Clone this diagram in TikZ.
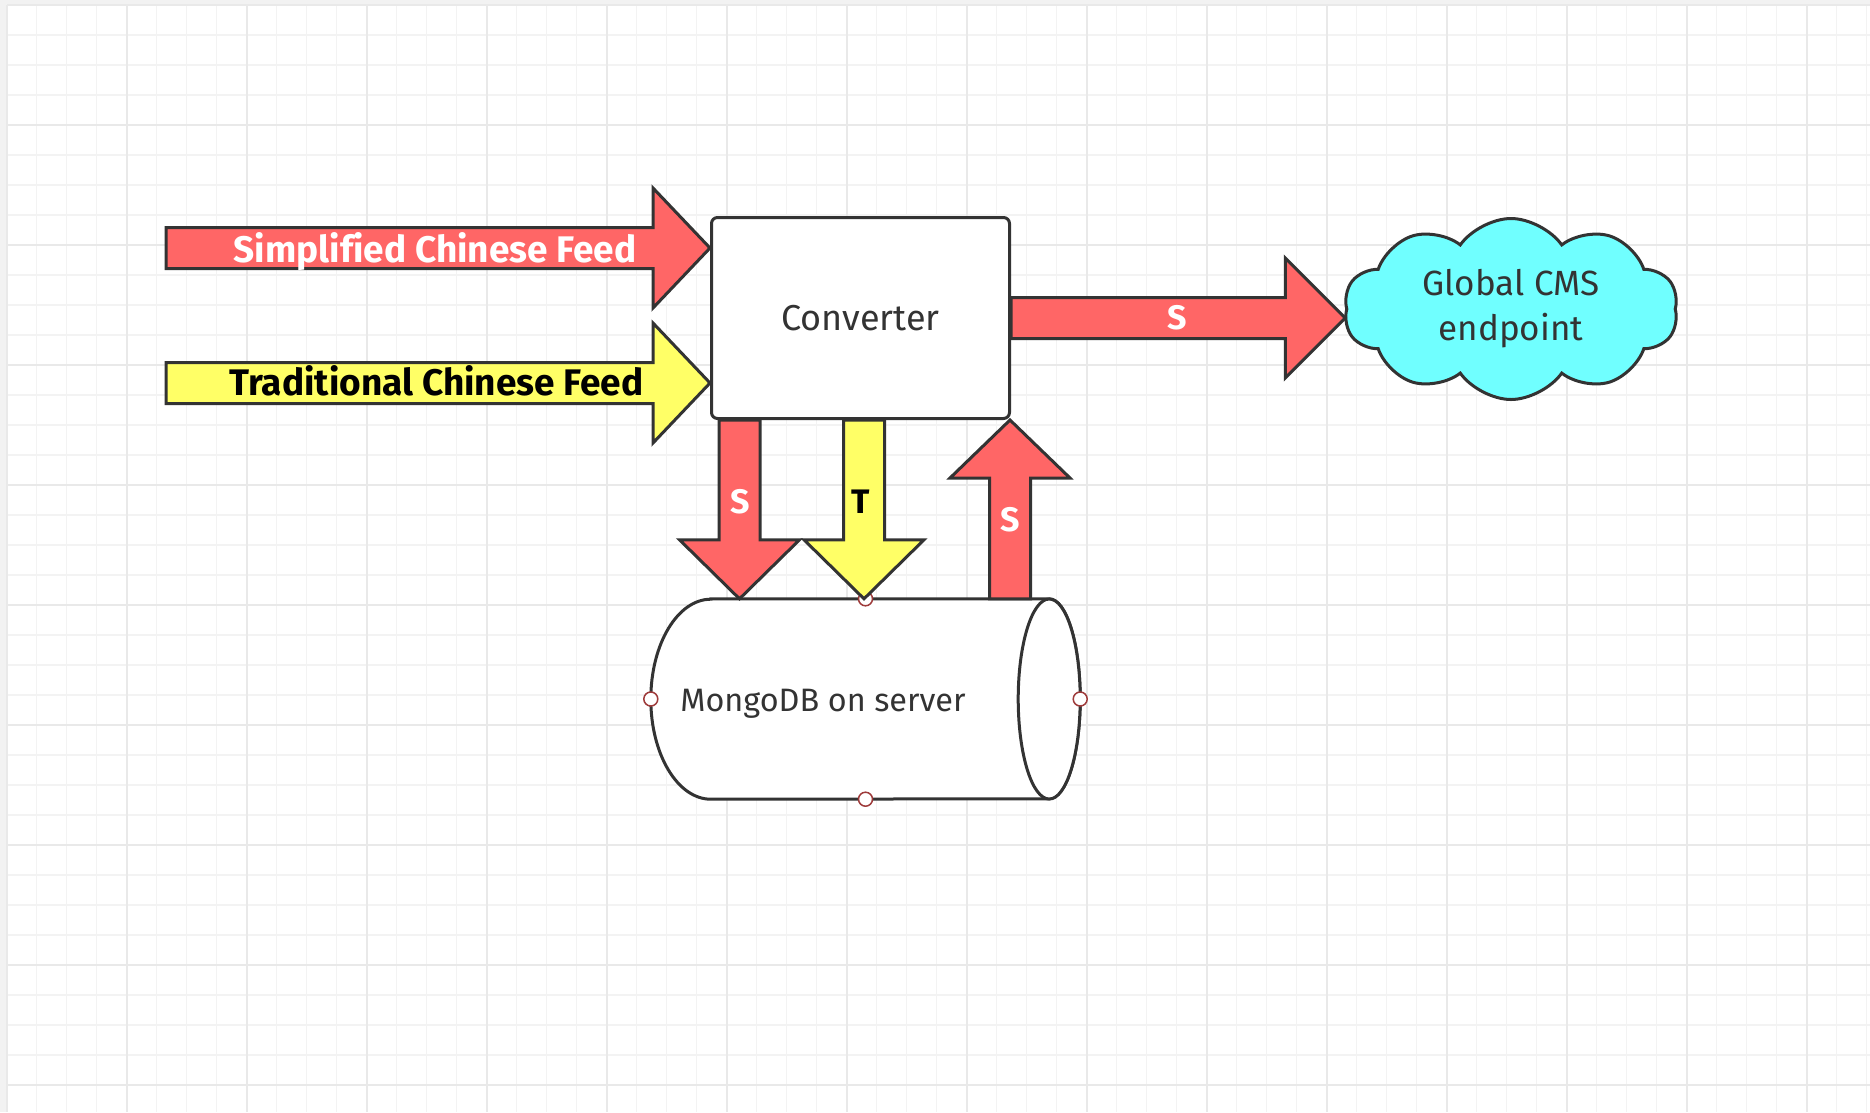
\documentclass[tikz,border=0pt]{standalone}
\usepackage{fontspec}
\setmainfont{Fira Sans}[Ligatures=NoCommon]
\usetikzlibrary{calc,shapes.symbols}

\definecolor{linegray}{HTML}{333333}
\definecolor{textgray}{HTML}{333333}
\definecolor{feedred}{HTML}{FF6666}
\definecolor{feedyellow}{HTML}{FFFF66}
\definecolor{cmscyan}{HTML}{70FFFF}
\definecolor{canvasgray}{HTML}{F2F2F2}
\definecolor{gridminor}{HTML}{F3F3F3}
\definecolor{gridmajor}{HTML}{E9E9E9}
\definecolor{pointred}{HTML}{9E3A3A}

% block arrow: [style]{from}{tip}{head length}
\newcommand\shaftw{20.5pt}
\newcommand\headw{60pt}
\newcommand\blockarrow[4][]{%
  \draw[#1] let \p1=(#2), \p2=(#3), \n1={veclen(\x2-\x1,\y2-\y1)},
      \n2={(\x2-\x1)/\n1}, \n3={(\y2-\y1)/\n1} in
    ({\x1-\shaftw*\n3},{\y1+\shaftw*\n2})
    -- ({\x2-#4*\n2-\shaftw*\n3},{\y2-#4*\n3+\shaftw*\n2})
    -- ({\x2-#4*\n2-\headw*\n3},{\y2-#4*\n3+\headw*\n2})
    -- (\p2)
    -- ({\x2-#4*\n2+\headw*\n3},{\y2-#4*\n3-\headw*\n2})
    -- ({\x2-#4*\n2+\shaftw*\n3},{\y2-#4*\n3-\shaftw*\n2})
    -- ({\x1+\shaftw*\n3},{\y1-\shaftw*\n2}) -- cycle;}

\begin{document}
\begin{tikzpicture}[x=1pt,y=-1pt,
    minor/.style={draw=gridminor, line width=1.5pt},
    major/.style={draw=gridmajor, line width=2pt},
    outline/.style={draw=linegray, line width=3pt},
    redarr/.style={outline, fill=feedred},
    yelarr/.style={outline, fill=feedyellow},
    box/.style={outline, fill=white, rounded corners=6pt, minimum width=298pt,
      minimum height=201pt, text=textgray, font=\fontsize{36}{42}\selectfont},
    cms/.style={cloud, cloud puffs=10, cloud puff arc=110, aspect=1.85, outline,
      fill=cmscyan, minimum width=334pt, minimum height=181pt, align=center,
      inner sep=0pt, text=textgray, font=\fontsize{35}{45}\selectfont},
    dbnode/.style={inner sep=0pt, minimum width=429pt, minimum height=200pt},
    dbtext/.style={text=textgray, font=\fontsize{32.4}{38}\selectfont},
    feedlbl/.style={font=\bfseries\fontsize{37}{42}\selectfont},
    arrlbl/.style={font=\bfseries\fontsize{34}{40}\selectfont},
    anchorpt/.style={draw=pointred, line width=1.5pt, fill=white}]
\useasboundingbox (0,0) rectangle (1870,1112);

%GRID
\fill[canvasgray] (0,0) rectangle (1870,1112);
\fill[white] (7,5) rectangle (1870,1112);
\foreach \x in {6.7,36.7,...,1870} \draw[minor] (\x,5) -- (\x,1112);
\foreach \y in {5,35,...,1112} \draw[minor] (7,\y) -- (1870,\y);
\foreach \x in {6.7,126.7,...,1870} \draw[major] (\x,5) -- (\x,1112);
\foreach \y in {5,125,...,1112} \draw[major] (7,\y) -- (1870,\y);

%NODE
\node[box] (conv) at (860.5,318) {Converter};
\node[cms] (cms) at (1511,309) {Global CMS\\endpoint};
\node[dbnode] (mongo) at (865.5,699) {};
\coordinate (sfeed) at (166,248);
\coordinate (tfeed) at (166,383);

%CYLINDER
\draw[outline, fill=white] ([xshift=60pt]mongo.north west) -- ([xshift=-31pt]mongo.north east)
  arc[start angle=90, end angle=-90, x radius=31pt, y radius=100pt]
  -- ([xshift=60pt]mongo.south west)
  arc[start angle=270, end angle=90, x radius=60pt, y radius=100pt] -- cycle;
\draw[outline, fill=white] ([xshift=-31pt]mongo.east) ellipse[x radius=31pt, y radius=100pt];
\node[dbtext, anchor=west] (mongolbl) at ([xshift=26pt,yshift=-4.5pt]mongo.west) {MongoDB on server};
\foreach \a in {north,south,west,east} \draw[anchorpt] (mongo.\a) circle (7pt);

%EDGE
\blockarrow[redarr]{sfeed}{[yshift=70pt]conv.west}{57pt}
\blockarrow[yelarr]{tfeed}{[yshift=-65pt]conv.west}{57pt}
\blockarrow[redarr]{conv.east}{conv.east -| cms.west}{60pt}
\blockarrow[redarr]{[xshift=-121pt]conv.south}{[xshift=-126pt]mongo.north}{59pt}
\blockarrow[yelarr]{[xshift=3.5pt]conv.south}{[xshift=-1.5pt]mongo.north}{59pt}
\blockarrow[redarr]{[xshift=144.5pt]mongo.north}{[xshift=149.5pt]conv.south}{58pt}

%LABEL
\node[feedlbl, text=white, anchor=base east] at (640,262) {Simplified Chinese Feed};
\node[feedlbl, text=black, anchor=base east] at (647,395) {Traditional Chinese Feed};
\node[arrlbl, text=white] at (1177,318) {S};
\node[arrlbl, text=white] at (740,502) {S};
\node[arrlbl, text=black] at (861,502) {T};
\node[arrlbl, text=white] at (1010,520) {S};
\end{tikzpicture}
\end{document}
